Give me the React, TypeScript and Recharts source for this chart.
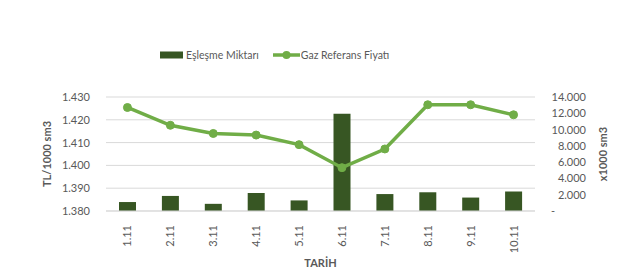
import React from 'react';
import { ComposedChart, Bar, Line, XAxis, YAxis, CartesianGrid, Legend, Label } from 'recharts';

const dates = ['1.11', '2.11', '3.11', '4.11', '5.11', '6.11', '7.11', '8.11', '9.11', '10.11'];
const eslesmeMiktari = [1100, 1850, 880, 2200, 1300, 11950, 2080, 2300, 1650, 2400];
const gazReferansFiyati = [1.4254, 1.4176, 1.4140, 1.4133, 1.4091, 1.3990, 1.4072, 1.4266, 1.4266, 1.4222];
const leftTicks = [1.38, 1.39, 1.4, 1.41, 1.42, 1.43];
const rightTicks = [0, 2000, 4000, 6000, 8000, 10000, 12000, 14000];

const data = dates.map((d, i) => ({ date: d, miktar: eslesmeMiktari[i], fiyat: gazReferansFiyati[i] }));

const FONT = 'Lato, "Liberation Sans", sans-serif';
const GRAY = '#595959';
const DARK = '#375623';
const LIGHT = '#70AD47';

const fmtRight = (v: number) => {
  if (v === 0) return '-';
  const s = String(v);
  return s.replace(/\B(?=(\d{3})+(?!\d))/g, '.');
};

const XTick = (props: any) => {
  const { x, y, payload } = props;
  return (
    <g transform={`translate(${x},${y + 6})`}>
      <text transform="rotate(-90)" textAnchor="end" dy={4} fill={GRAY} fontSize={11} fontFamily={FONT}>
        {payload.value}
      </text>
    </g>
  );
};

const RightTick = (props: any) => {
  const { x, y, payload } = props;
  const v = payload.value;
  if (v === 0) {
    return (
      <text x={x + 16} y={y + 4} textAnchor="start" fill={GRAY} fontSize={11} fontFamily={FONT}>-</text>
    );
  }
  return (
    <text x={x + 51} y={y + 4} textAnchor="end" fill={GRAY} fontSize={11} fontFamily={FONT}>
      {fmtRight(v)}
    </text>
  );
};

const LeftTick = (props: any) => {
  const { x, y, payload } = props;
  return (
    <text x={x} y={y + 4} textAnchor="end" fill={GRAY} fontSize={11} fontFamily={FONT}>
      {payload.value.toFixed(3)}
    </text>
  );
};

const LegendContent = () => (
  <div style={{ display: 'flex', alignItems: 'center', fontFamily: FONT, fontSize: 10.5, color: GRAY, height: 14 }}>
    <svg width={26} height={10} style={{ marginRight: 0 }}>
      <rect x={0} y={1.5} width={23} height={7} fill={DARK} />
    </svg>
    <span style={{ marginRight: 14 }}>Eşleşme Miktarı</span>
    <svg width={27} height={10} style={{ marginRight: 1 }}>
      <line x1={0} y1={5} x2={27} y2={5} stroke={LIGHT} strokeWidth={3.5} />
      <circle cx={13.5} cy={5} r={4} fill={LIGHT} />
    </svg>
    <span>Gaz Referans Fiyatı</span>
  </div>
);

export default function App() {
  return (
    <div style={{ position: 'absolute', left: 0, top: 0, background: '#fff' }}>
      <ComposedChart width={624} height={277} data={data} margin={{ top: 83, right: 0, bottom: 0, left: 0 }}>
        <CartesianGrid horizontal vertical={false} stroke="#d9d9d9" yAxisId="left" />
        <Legend
          verticalAlign="top"
          content={<LegendContent />}
          wrapperStyle={{ position: 'absolute', top: 48, left: 160, width: 260, height: 14 }}
        />
        <XAxis
          dataKey="date"
          height={66}
          tick={<XTick />}
          tickLine={false}
          axisLine={{ stroke: '#d9d9d9' }}
          interval={0}
        >
          <Label
            content={(p: any) => {
              const vb = p.viewBox;
              return (
                <text x={vb.x + vb.width / 2} y={vb.y + 56} textAnchor="middle" fill={GRAY} fontSize={11} fontWeight="bold" fontFamily={FONT}>
                  TARİH
                </text>
              );
            }}
          />
        </XAxis>
        <YAxis
          yAxisId="left"
          orientation="left"
          width={106}
          domain={[1.38, 1.43]}
          ticks={leftTicks}
          tick={<LeftTick />}
          tickLine={false}
          axisLine={false}
          tickSize={0}
          tickMargin={16}
          interval={0}
        >
          <Label
            content={(p: any) => {
              const vb = p.viewBox;
              const cx = vb.x + 48;
              const cy = vb.y + vb.height / 2;
              return (
                <text x={cx} y={cy} transform={`rotate(-90, ${cx}, ${cy})`} textAnchor="middle" dominantBaseline="middle" fill={GRAY} fontSize={11} fontWeight="bold" fontFamily={FONT}>
                  TL/1000 sm3
                </text>
              );
            }}
          />
        </YAxis>
        <YAxis
          yAxisId="right"
          orientation="right"
          width={89}
          domain={[0, 14000]}
          ticks={rightTicks}
          tick={<RightTick />}
          tickLine={false}
          axisLine={false}
          tickSize={0}
          tickMargin={0}
          interval={0}
        >
          <Label
            content={(p: any) => {
              const vb = p.viewBox;
              const cx = vb.x + 69;
              const cy = vb.y + vb.height / 2;
              return (
                <text x={cx} y={cy} transform={`rotate(-90, ${cx}, ${cy})`} textAnchor="middle" dominantBaseline="middle" fill={GRAY} fontSize={11} fontWeight="bold" fontFamily={FONT}>
                  x1000 sm3
                </text>
              );
            }}
          />
        </YAxis>
        <Bar yAxisId="right" dataKey="miktar" name="Eşleşme Miktarı" fill={DARK} barSize={17} isAnimationActive={false} />
        <Line
          yAxisId="left"
          dataKey="fiyat"
          name="Gaz Referans Fiyatı"
          stroke={LIGHT}
          strokeWidth={3.5}
          dot={{ r: 4, fill: LIGHT, stroke: LIGHT, strokeWidth: 1 }}
          activeDot={false}
          isAnimationActive={false}
        />
      </ComposedChart>
    </div>
  );
}
